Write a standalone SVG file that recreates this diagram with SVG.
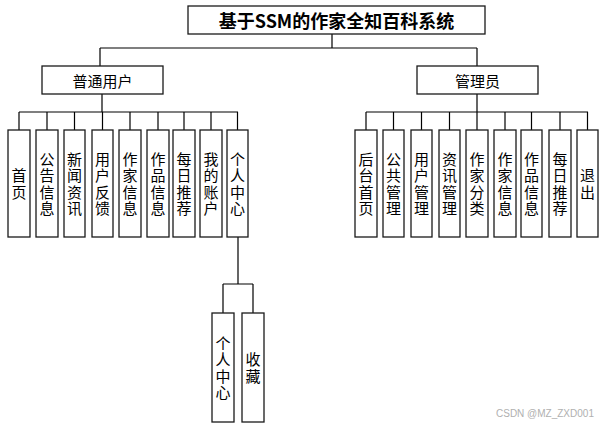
<svg xmlns="http://www.w3.org/2000/svg" width="606" height="428" viewBox="0 0 606 428">
<style>
.box{fill:#fff;stroke:#1a1a1a;stroke-width:1.3}
.ln{fill:none;stroke:#000;stroke-width:1.2}
text{font-family:"Noto Sans CJK SC","Microsoft YaHei",sans-serif;fill:#000}
.v{font-size:15px;text-anchor:middle;writing-mode:vertical-rl;letter-spacing:1.5px}
.h{font-size:15px;text-anchor:middle;dominant-baseline:central}
.t{font-size:18px;font-weight:bold;text-anchor:middle;dominant-baseline:central}
.wm{font-family:"Liberation Sans",Arial,sans-serif;font-size:10px;fill:#b0b0b0}
</style>
<rect width="606" height="428" fill="#fff"/>
<g id="connectors">
<path class="ln" d="M332 34V48M100 48H477M100 48V66M477 48V66"/>
<path class="ln" d="M102 94V112M19 112H238M19 112V130M47 112V130M74.5 112V130M102.5 112V130M130 112V130M158 112V130M184 112V130M211 112V130M237.5 112V130"/>
<path class="ln" d="M477 94V112M366 112H588M366 112V130M393.5 112V130M421.5 112V130M449.5 112V130M477 112V130M505 112V130M531.5 112V130M560 112V130M587.5 112V130"/>
<path class="ln" d="M238 237V284M223 284H253M223 284V313M253 284V313"/>
</g>
<g id="title"><rect class="box" x="188" y="6" width="297" height="28"/><text class="t" x="336.5" y="20">基于SSM的作家全知百科系统</text></g>
<g id="user"><rect class="box" x="42" y="66" width="121" height="28"/><text class="h" x="102.5" y="80">普通用户</text></g>
<g id="admin"><rect class="box" x="417" y="66" width="121" height="28"/><text class="h" x="477.5" y="80">管理员</text></g>

<g id="u1"><rect class="box" x="8" y="130" width="22" height="107"/><text class="v" x="19" y="184.5">首页</text></g>
<g id="u2"><rect class="box" x="36" y="130" width="22" height="107"/><text class="v" x="47" y="184.5">公告信息</text></g>
<g id="u3"><rect class="box" x="64" y="130" width="21" height="107"/><text class="v" x="74.5" y="184.5">新闻资讯</text></g>
<g id="u4"><rect class="box" x="92" y="130" width="21" height="107"/><text class="v" x="102.5" y="184.5">用户反馈</text></g>
<g id="u5"><rect class="box" x="119" y="130" width="22" height="107"/><text class="v" x="130" y="184.5">作家信息</text></g>
<g id="u6"><rect class="box" x="147" y="130" width="22" height="107"/><text class="v" x="158" y="184.5">作品信息</text></g>
<g id="u7"><rect class="box" x="173" y="130" width="22" height="107"/><text class="v" x="184" y="184.5">每日推荐</text></g>
<g id="u8"><rect class="box" x="200" y="130" width="22" height="107"/><text class="v" x="211" y="184.5">我的账户</text></g>
<g id="u9"><rect class="box" x="227" y="130" width="21" height="107"/><text class="v" x="237.5" y="184.5">个人中心</text></g>

<g id="a1"><rect class="box" x="355" y="130" width="22" height="107"/><text class="v" x="366" y="184.5">后台首页</text></g>
<g id="a2"><rect class="box" x="383" y="130" width="21" height="107"/><text class="v" x="393.5" y="184.5">公共管理</text></g>
<g id="a3"><rect class="box" x="411" y="130" width="21" height="107"/><text class="v" x="421.5" y="184.5">用户管理</text></g>
<g id="a4"><rect class="box" x="439" y="130" width="21" height="107"/><text class="v" x="449.5" y="184.5">资讯管理</text></g>
<g id="a5"><rect class="box" x="466" y="130" width="22" height="107"/><text class="v" x="477" y="184.5">作家分类</text></g>
<g id="a6"><rect class="box" x="494" y="130" width="22" height="107"/><text class="v" x="505" y="184.5">作家信息</text></g>
<g id="a7"><rect class="box" x="521" y="130" width="21" height="107"/><text class="v" x="531.5" y="184.5">作品信息</text></g>
<g id="a8"><rect class="box" x="549" y="130" width="22" height="107"/><text class="v" x="560" y="184.5">每日推荐</text></g>
<g id="a9"><rect class="box" x="577" y="130" width="21" height="107"/><text class="v" x="587.5" y="184.5">退出</text></g>

<g id="p1"><rect class="box" x="212" y="313" width="22" height="109"/><text class="v" x="223" y="368.5">个人中心</text></g>
<g id="p2"><rect class="box" x="242" y="313" width="22" height="109"/><text class="v" x="253" y="368.5">收藏</text></g>

<text class="wm" x="496" y="417">CSDN @MZ_ZXD001</text>
</svg>
